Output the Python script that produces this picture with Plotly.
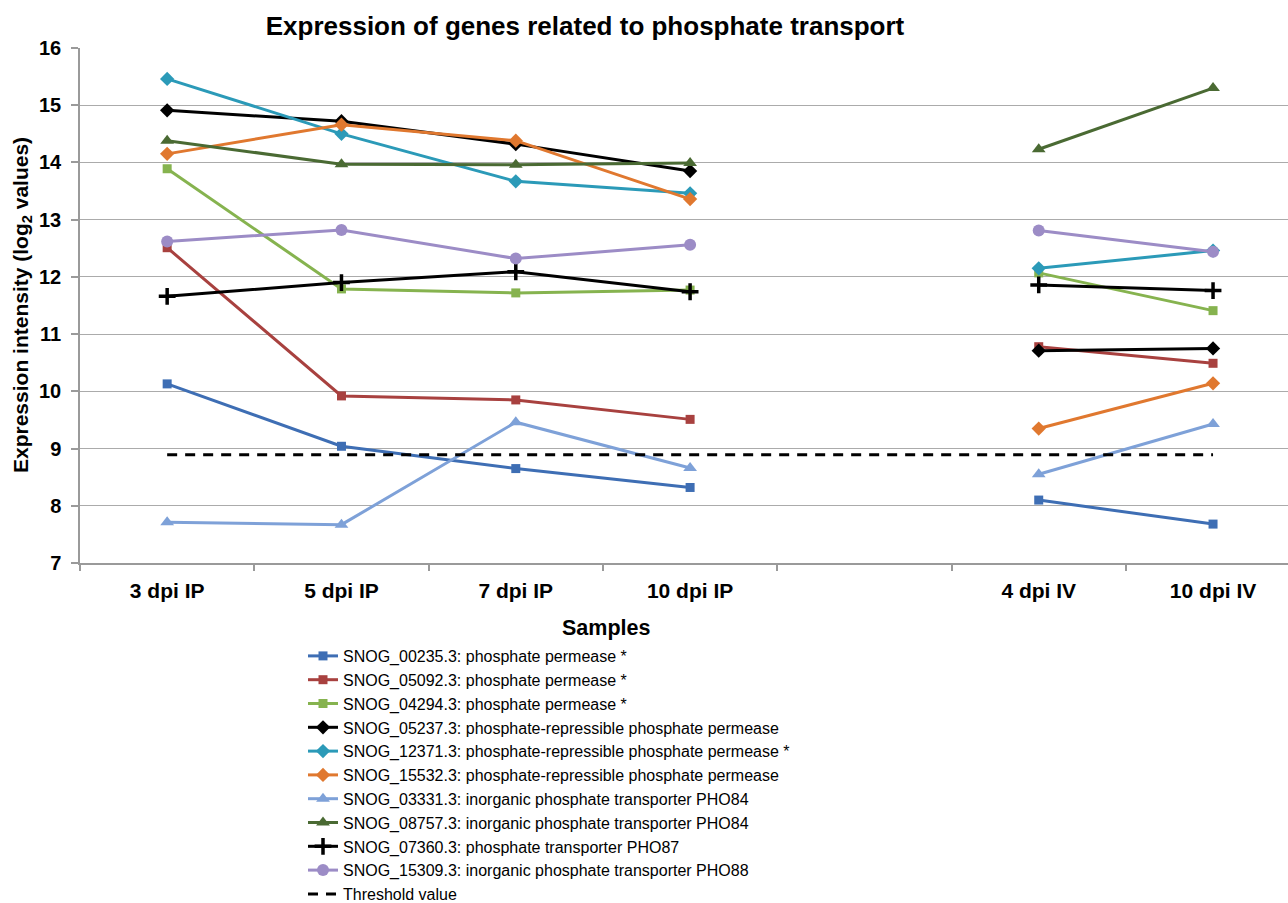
import plotly.graph_objects as go

categories = ["3 dpi IP", "5 dpi IP", "7 dpi IP", "10 dpi IP", " ", "4 dpi IV", "10 dpi IV"]

snog_00235 = [10.13, 9.04, 8.65, 8.32, None, 8.10, 7.68]
snog_05092 = [12.51, 9.92, 9.85, 9.51, None, 10.78, 10.49]
snog_04294 = [13.89, 11.79, 11.72, 11.77, None, 12.07, 11.41]
snog_05237 = [14.91, 14.72, 14.32, 13.85, None, 10.71, 10.75]
snog_12371 = [15.46, 14.50, 13.67, 13.46, None, 12.15, 12.46]
snog_15532 = [14.15, 14.66, 14.38, 13.36, None, 9.35, 10.14]
snog_03331 = [7.71, 7.67, 9.46, 8.66, None, 8.55, 9.43]
snog_08757 = [14.38, 13.97, 13.96, 13.99, None, 14.23, 15.30]
snog_07360 = [11.66, 11.90, 12.09, 11.74, None, 11.86, 11.76]
snog_15309 = [12.62, 12.82, 12.32, 12.56, None, 12.81, 12.44]
threshold = [8.89, 8.89, 8.89, 8.89, 8.89, 8.89, 8.89]

series = [
    ("SNOG_00235.3: phosphate permease *", snog_00235, "#3E6EB4", "square", 9),
    ("SNOG_05092.3: phosphate permease *", snog_05092, "#A8413F", "square", 9),
    ("SNOG_04294.3: phosphate permease *", snog_04294, "#86B34F", "square", 9),
    ("SNOG_05237.3: phosphate-repressible phosphate permease", snog_05237, "#000000", "diamond", 11),
    ("SNOG_12371.3: phosphate-repressible phosphate permease *", snog_12371, "#2B9AB8", "diamond", 11),
    ("SNOG_15532.3: phosphate-repressible phosphate permease", snog_15532, "#E0782F", "diamond", 11),
    ("SNOG_03331.3: inorganic phosphate transporter PHO84", snog_03331, "#7EA1D8", "triangle-up", 12),
    ("SNOG_08757.3: inorganic phosphate transporter PHO84", snog_08757, "#4A6A33", "triangle-up", 12),
    ("SNOG_07360.3: phosphate transporter PHO87", snog_07360, "#000000", "cross-thin", 12),
    ("SNOG_15309.3: inorganic phosphate transporter PHO88", snog_15309, "#9C8CC6", "circle", 12),
]

FONT = "Liberation Sans, Arial, sans-serif"

fig = go.Figure()
for name, vals, color, sym, size in series:
    marker = dict(symbol=sym, size=size, color=color)
    if sym == "cross-thin":
        marker["line"] = dict(width=3.5, color=color)
    else:
        marker["line"] = dict(width=0, color=color)
    fig.add_trace(go.Scatter(
        x=categories, y=vals, name=name, mode="lines+markers",
        line=dict(color=color, width=3), marker=marker, connectgaps=False,
    ))

fig.add_trace(go.Scatter(
    x=categories, y=threshold, name="Threshold value", mode="lines",
    line=dict(color="#000000", width=3, dash="10px,8px"),
))

W, H = 1288, 903
ml, mr, mt, mb = 80, 0, 48, 340
pw = W - ml - mr
ph = H - mt - mb

def px_x(p):
    return (p - ml) / pw

def px_y(p):
    return (H - mb - p) / ph

fig.update_layout(
    width=W, height=H,
    margin=dict(l=ml, r=mr, t=mt, b=mb, pad=0),
    paper_bgcolor="white", plot_bgcolor="white",
    font=dict(family=FONT, color="#000000"),
    title=dict(text="Expression of genes related to phosphate transport",
               x=585 / W, xref="container", xanchor="center",
               y=1 - 26 / H, yref="container", yanchor="middle",
               font=dict(size=26, weight="bold", family=FONT)),
    xaxis=dict(type="category", categoryorder="array", categoryarray=categories,
               range=[-0.5, 6.43], showgrid=False, showline=True, linecolor="#9A9A9A",
               linewidth=1.5, ticks="outside", tickson="boundaries", ticklen=6,
               tickcolor="#9A9A9A", tickwidth=1.5, ticklabelstandoff=8,
               tickfont=dict(size=21, weight="bold", family=FONT)),
    yaxis=dict(range=[7, 16], dtick=1, showgrid=True, gridcolor="#ABABAB", gridwidth=1.2,
               showline=True, linecolor="#9A9A9A", linewidth=1.5, ticks="outside",
               ticklen=7, tickcolor="#9A9A9A", tickwidth=1.5, zeroline=False,
               ticklabelstandoff=6,
               tickfont=dict(size=20, weight="bold", family=FONT)),
    legend=dict(x=px_x(303), xref="paper", y=1 - 639 / H, yref="container",
                xanchor="left", yanchor="top",
                font=dict(size=16, family=FONT), tracegroupgap=0,
                bgcolor="rgba(0,0,0,0)", itemwidth=30),
    showlegend=True,
    annotations=[
        dict(text="Expression intensity (log<sub>2</sub> values)", textangle=-90,
             x=px_x(22), y=px_y(305), xref="paper", yref="paper",
             xanchor="center", yanchor="middle", showarrow=False,
             font=dict(size=21, weight="bold", family=FONT)),
        dict(text="Samples", x=px_x(606), y=px_y(628), xref="paper", yref="paper",
             xanchor="center", yanchor="middle", showarrow=False,
             font=dict(size=21.5, weight="bold", family=FONT)),
    ],
)

fig.write_html("out.html")
